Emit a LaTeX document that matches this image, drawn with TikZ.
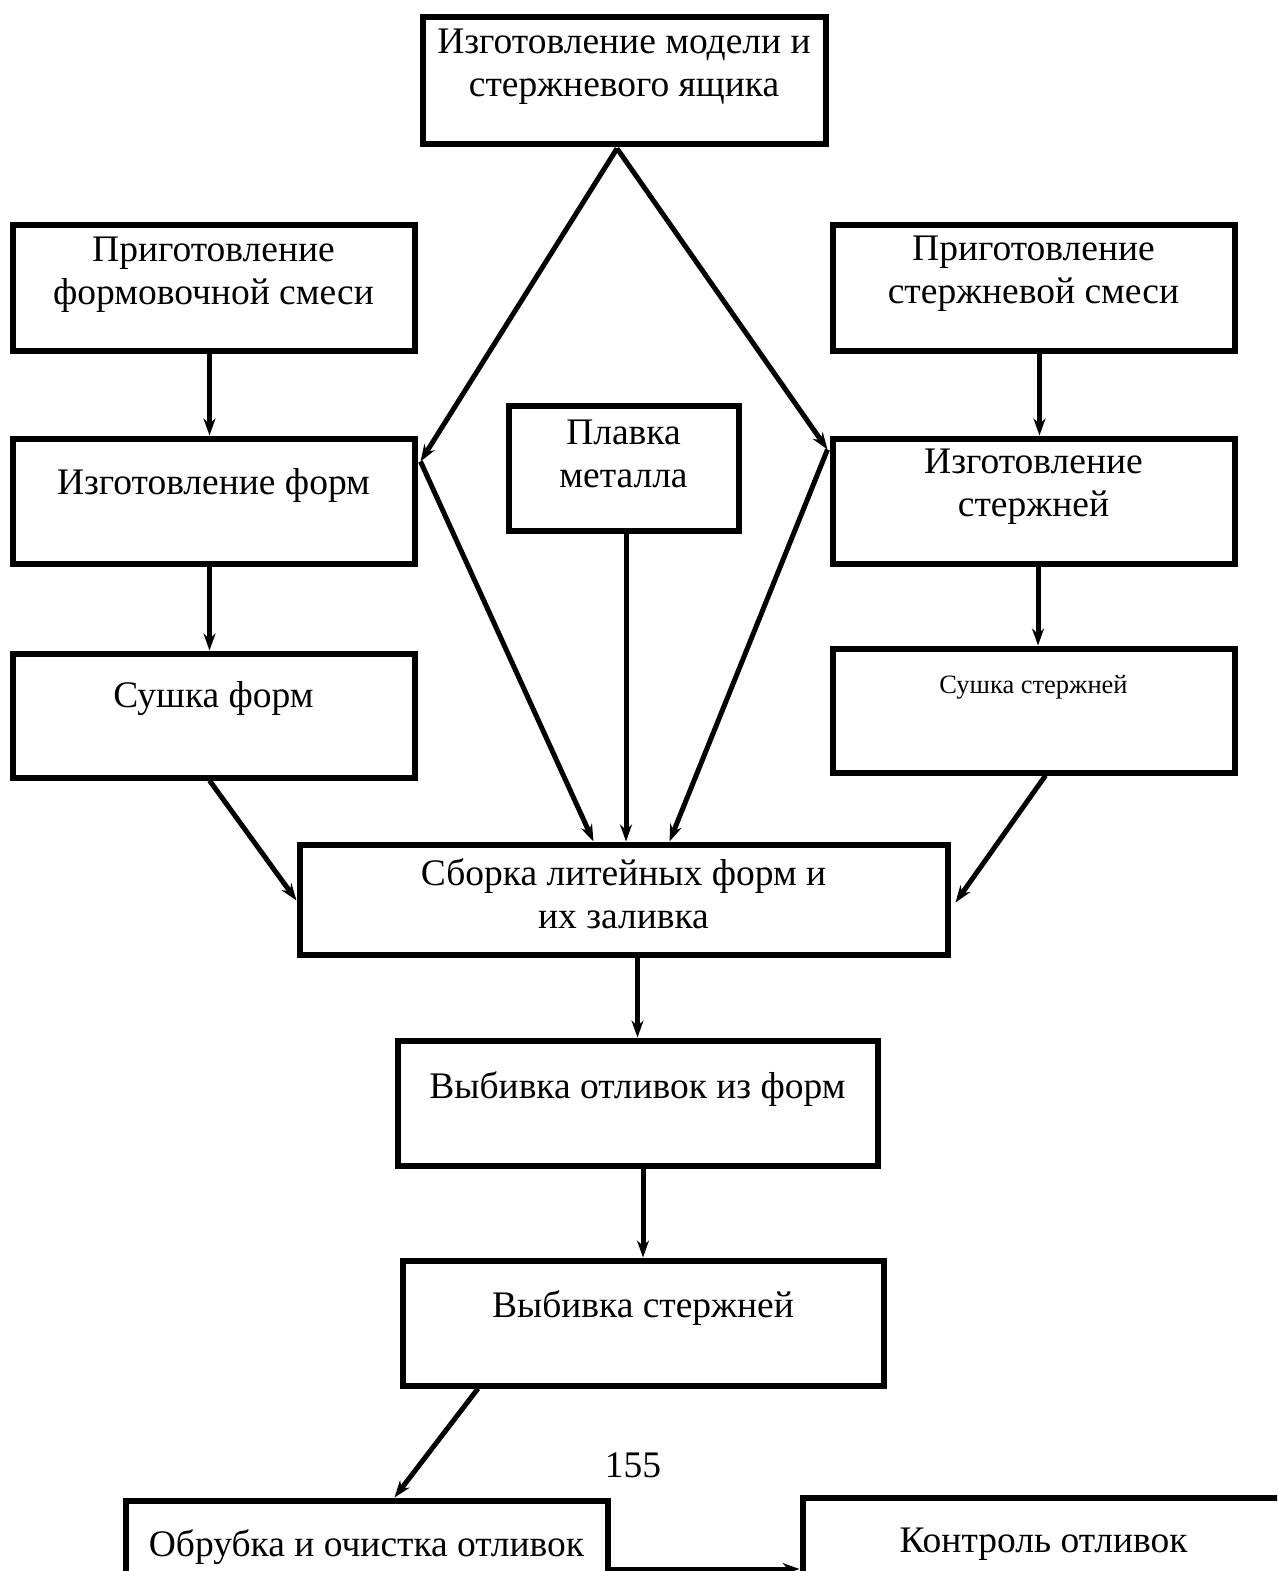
\documentclass[tikz,border=0pt]{standalone}
\usepackage{fontspec}
\setmainfont{Liberation Serif}
\usetikzlibrary{arrows.meta}
\begin{document}
\begin{tikzpicture}[x=1pt,y=-1pt,
  box/.style={draw, line width=6pt, rectangle, inner sep=0pt},
  txt/.style={align=center, inner sep=0pt, font=\fontsize{37.5}{43}\selectfont},
  smalltxt/.style={align=center, inner sep=0pt, font=\fontsize{26.5}{30}\selectfont},
  arr/.style={line width=5pt, -{Stealth[length=17pt,width=12pt]}}
]
\useasboundingbox (0,0) rectangle (1277,1571);
\clip (0,0) rectangle (1277,1571);
% boxes
\node[box, minimum width=403pt, minimum height=126pt] (top) at (624,80.5) {};
\node[box, minimum width=402pt, minimum height=126pt] (l1) at (213.5,287.5) {};
\node[box, minimum width=402pt, minimum height=126pt] (r1) at (1033.5,287.5) {};
\node[box, minimum width=402pt, minimum height=125pt] (l2) at (213.5,501) {};
\node[box, minimum width=230pt, minimum height=125pt] (pl) at (623.5,468) {};
\node[box, minimum width=402pt, minimum height=125pt] (r2) at (1033.5,501) {};
\node[box, minimum width=402pt, minimum height=124pt] (l3) at (213.5,715.5) {};
\node[box, minimum width=402pt, minimum height=124pt] (r3) at (1033.5,710.5) {};
\node[box, minimum width=648pt, minimum height=110pt] (sb) at (623.5,899.5) {};
\node[box, minimum width=480pt, minimum height=125pt] (v1) at (637.5,1103) {};
\node[box, minimum width=481pt, minimum height=125pt] (v2) at (643,1323) {};
\node[box, minimum width=482pt, minimum height=125pt] (ob) at (366.5,1563) {};
\node[box, minimum width=482pt, minimum height=125pt] (kt) at (1043.5,1560) {};
% texts
\node[txt] (ttop) at (624,67) {Изготовление модели и\\стержневого ящика};
\node[txt] (tl1) at (213.5,275) {Приготовление\\формовочной смеси};
\node[txt] (tr1) at (1033.5,274) {Приготовление\\стержневой смеси};
\node[txt] (tl2) at (213.5,485) {Изготовление форм};
\node[txt] (tpl) at (623.5,454) {Плавка\\металла};
\node[txt] (tr2) at (1033.5,487) {Изготовление\\стержней};
\node[txt] (tl3) at (213.5,699) {Сушка форм};
\node[smalltxt] (tr3) at (1033.5,687) {Сушка стержней};
\node[txt] (tsb) at (623.5,894) {Сборка литейных форм и\\их заливка};
\node[txt] (tv1) at (637.5,1089) {Выбивка отливок из форм};
\node[txt] (tv2) at (643,1308) {Выбивка стержней};
\node[txt] (pg) at (633,1465) {155};
\node[txt] (tob) at (366.5,1547) {Обрубка и очистка отливок};
\node[txt] (tkt) at (1043.5,1544) {Контроль отливок};
% connectors
\coordinate (apex) at ([xshift=-7pt,yshift=-2pt]top.south);
\coordinate (l2e) at ([xshift=3pt,yshift=-26pt]l2.north east);
\coordinate (r2w) at ([xshift=-2pt,yshift=-14pt]r2.north west);
\draw[arr] (apex) -- (l2e);
\draw[arr] (apex) -- (r2w);
\draw[arr] ([xshift=-4pt]l1.south) -- ([xshift=-4pt]l2.north);
\draw[arr] ([xshift=6pt]r1.south) -- ([xshift=6pt]r2.north);
\draw[arr] ([xshift=-4pt]l2.south) -- ([xshift=-4pt]l3.north);
\draw[arr] ([xshift=4.5pt]r2.south) -- ([xshift=4.5pt]r3.north);
\draw[arr] (l2e) -- ([xshift=-30pt]sb.north);
\draw[arr] ([xshift=2.5pt]pl.south) -- ([xshift=2.5pt]sb.north);
\draw[arr] (r2w) -- ([xshift=46pt]sb.north);
\draw[arr] ([xshift=-4pt]l3.south) -- ([yshift=-1pt]sb.west);
\draw[arr] ([xshift=12pt]r3.south) -- ([xshift=5pt,yshift=-3pt]sb.east);
\draw[arr] (v1.north |- sb.south) -- (v1.north);
\draw[arr] (v2.north |- v1.south) -- (v2.north);
\draw[arr] ([xshift=-165pt]v2.south) -- ([xshift=28pt]ob.north);
\draw[arr] ([yshift=-6pt]ob.east) -- ([yshift=-6pt]ob.east -| kt.west);
\end{tikzpicture}
\end{document}
